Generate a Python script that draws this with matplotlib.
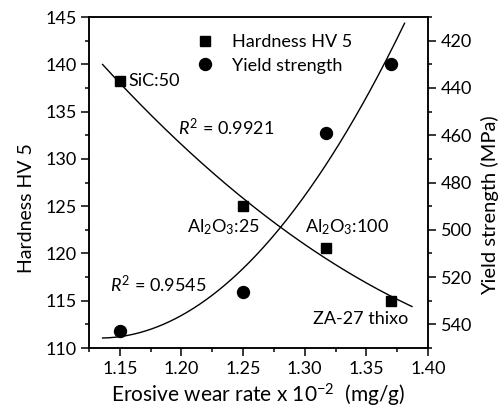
import numpy as np
import matplotlib
matplotlib.use('Agg')
import matplotlib.pyplot as plt
from matplotlib.ticker import MultipleLocator

plt.rcParams['font.family'] = ['Lato', 'DejaVu Sans']
plt.rcParams['mathtext.fontset'] = 'custom'
plt.rcParams['mathtext.rm'] = 'Lato'
plt.rcParams['mathtext.it'] = 'Lato:italic'
plt.rcParams['mathtext.bf'] = 'Lato:bold'

# erosive wear rate (x 10^-2 mg/g) and measured properties
wear_rate = [1.15, 1.25, 1.317, 1.37]
hardness = [138.2, 125.0, 120.6, 115.0]
yield_strength = [543.0, 526.4, 459.0, 430.0]
sample_labels = ['SiC:50', 'Al$_2$O$_3$:25', 'Al$_2$O$_3$:100', 'ZA-27 thixo']
r2_hardness = '0.9921'
r2_yield = '0.9545'

fig = plt.figure(figsize=(5.04, 4.12), dpi=100)
ax = fig.add_axes([0.1766, 0.1553, 0.6726, 0.8034])
ax2 = ax.twinx()

# trend lines (2nd order polynomial fits of the data)
xs_h = np.linspace(1.136, 1.387, 200)
ax.plot(xs_h, np.polyval(np.polyfit(wear_rate, hardness, 2), xs_h),
        color='black', lw=1.0)
xs_y = np.linspace(1.136, 1.381, 200)
ax2.plot(xs_y, np.polyval(np.polyfit(wear_rate, yield_strength, 2), xs_y),
         color='black', lw=1.0)

h1, = ax.plot(wear_rate, hardness, 's', color='black', ms=7.5,
              label='Hardness HV 5', zorder=5)
h2, = ax2.plot(wear_rate, yield_strength, 'o', color='black', ms=8.6,
               label='Yield strength', zorder=5)

ax.set_xlim(1.125, 1.40)
ax.set_ylim(110, 145)
ax2.set_ylim(550, 410)

ax.xaxis.set_major_locator(MultipleLocator(0.05))
ax.xaxis.set_minor_locator(MultipleLocator(0.025))
ax.yaxis.set_major_locator(MultipleLocator(5))
ax.yaxis.set_minor_locator(MultipleLocator(2.5))
ax2.yaxis.set_major_locator(MultipleLocator(20))
ax2.yaxis.set_minor_locator(MultipleLocator(10))
ax.xaxis.set_major_formatter(matplotlib.ticker.FormatStrFormatter('%.2f'))

for a in (ax, ax2):
    a.tick_params(which='major', direction='out', length=5.5, width=1.1,
                  labelsize=13, colors='black')
    a.tick_params(which='minor', direction='out', length=3, width=1.1)
    for s in a.spines.values():
        s.set_linewidth(1.1)
ax.tick_params(axis='x', which='both', top=False)

ax.set_xlabel('Erosive wear rate x 10$^{-2}$  (mg/g)', fontsize=15, labelpad=4)
ax.set_ylabel('Hardness HV 5', fontsize=14)
ax2.set_ylabel('Yield strength (MPa)', fontsize=14.5)
ax.yaxis.set_label_coords(-0.16, 0.423)
ax2.yaxis.set_label_coords(1.155, 0.432)

# sample annotations
ax.text(1.157, 138.2, sample_labels[0], fontsize=13, ha='left', va='center')
ax.text(1.234, 122.8, sample_labels[1], fontsize=13, ha='center', va='center')
ax.text(1.334, 122.8, sample_labels[2], fontsize=13, ha='center', va='center')
ax.text(1.345, 113.1, sample_labels[3], fontsize=13, ha='center', va='center')
ax.text(1.197, 133.3, '$R^2$ = ' + r2_hardness, fontsize=13, ha='left', va='center')
ax.text(1.142, 116.7, '$R^2$ = ' + r2_yield, fontsize=13, ha='left', va='center')

ax.legend(handles=[h1, h2], loc='upper left', bbox_to_anchor=(0.268, 0.998),
          frameon=False, fontsize=13, handlelength=1.0, handletextpad=1.0,
          labelspacing=0.42, numpoints=1)

fig.savefig('out.png', dpi=100)
